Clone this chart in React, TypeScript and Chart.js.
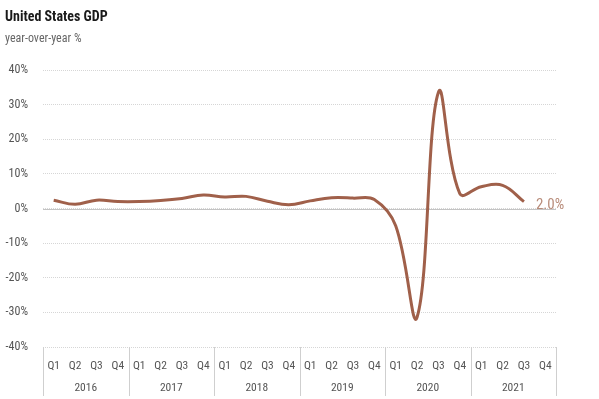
import { useEffect, useRef } from 'react';
import { Chart, registerables } from 'chart.js';
Chart.register(...registerables);

const years = ['2016', '2017', '2018', '2019', '2020', '2021'];
const quarters = ['Q1', 'Q2', 'Q3', 'Q4'];
const categories = years.flatMap((y) => quarters.map((q) => `${y} ${q}`));
const gdp = [2.4, 1.2, 2.4, 2.0, 2.0, 2.3, 2.9, 3.9, 3.3, 3.5, 2.1, 1.1, 2.2, 3.1, 3.0, 2.6, -5.0, -31.4, 33.6, 4.3, 6.3, 6.7, 2.0, null];
const yTicks = [-40, -30, -20, -10, 0, 10, 20, 30, 40];
const title = 'United States GDP';
const subtitle = 'year-over-year %';

const FONT = "'Liberation Sans Narrow', 'Roboto Condensed', 'DejaVu Sans Condensed', sans-serif";
const LINE = '#a0604a';
const LABEL = '#b88c7a';

const deco = {
  id: 'deco',
  beforeDatasetsDraw(chart: any) {
    const { ctx, chartArea, scales } = chart;
    const y0 = Math.round(scales.y.getPixelForValue(0)) + 0.5;
    ctx.save();
    ctx.strokeStyle = '#c4c4c4';
    ctx.lineWidth = 1;
    ctx.beginPath();
    ctx.moveTo(chartArea.left, y0);
    ctx.lineTo(chartArea.right, y0);
    ctx.stroke();
    ctx.restore();
  },
  afterDraw(chart: any) {
    const { ctx, chartArea, scales } = chart;
    const x = scales.x;
    ctx.save();
    const half = (x.getPixelForValue(1) - x.getPixelForValue(0)) / 2;
    ctx.strokeStyle = '#cfcfcf';
    ctx.lineWidth = 1;
    for (let i = 0; i <= years.length; i++) {
      const px = i < years.length
        ? x.getPixelForValue(i * 4) - half
        : x.getPixelForValue(categories.length - 1) + half;
      const rx = Math.round(px) + 0.5;
      ctx.beginPath();
      ctx.moveTo(rx, chartArea.bottom);
      ctx.lineTo(rx, chart.height - 3);
      ctx.stroke();
    }
    ctx.fillStyle = '#555';
    ctx.font = `11.5px ${FONT}`;
    ctx.textAlign = 'center';
    ctx.textBaseline = 'middle';
    years.forEach((yr, i) => {
      const cx = (x.getPixelForValue(i * 4) + x.getPixelForValue(i * 4 + 3)) / 2;
      ctx.fillText(yr, cx, chartArea.bottom + 41);
    });
    // titles
    ctx.textAlign = 'left';
    ctx.textBaseline = 'alphabetic';
    ctx.fillStyle = '#1a1a1a';
    ctx.font = `bold 14px ${FONT}`;
    ctx.fillText(title, 5, 21);
    ctx.fillStyle = '#666';
    ctx.font = `12px ${FONT}`;
    ctx.fillText(subtitle, 5, 42);
    // end label
    const meta = chart.getDatasetMeta(0);
    let last = -1;
    gdp.forEach((v, i) => { if (v !== null) last = i; });
    const pt = meta.data[last];
    ctx.fillStyle = LABEL;
    ctx.font = `15px ${FONT}`;
    ctx.textBaseline = 'middle';
    ctx.fillText(`${(gdp[last] as number).toFixed(1)}%`, pt.x + 12, pt.y + 4);
    ctx.restore();
  },
};

export default function App() {
  const ref = useRef<HTMLCanvasElement>(null);
  useEffect(() => {
    document.body.style.margin = '0';
    const chart = new Chart(ref.current!, {
      type: 'line',
      data: {
        labels: categories,
        datasets: [{
          data: gdp,
          borderColor: LINE,
          borderWidth: 3,
          pointRadius: 0,
          tension: 0.4,
          fill: false,
          spanGaps: false,
        }],
      },
      options: {
        animation: false,
        responsive: false,
        devicePixelRatio: 1,
        layout: { padding: { top: 70, left: 0, right: 43, bottom: 0 } },
        plugins: { legend: { display: false }, tooltip: { enabled: false }, title: { display: false } },
        scales: {
          x: {
            offset: true,
            grid: { display: false },
            border: { display: false },
            ticks: {
              autoSkip: false,
              maxRotation: 0,
              padding: 4,
              color: '#555',
              font: { family: FONT, size: 11.5 },
              callback: (v: any, i: number) => categories[i].split(' ')[1],
            },
            afterFit: (s: any) => { s.height = 52; },
          },
          y: {
            min: -40,
            max: 40,
            afterBuildTicks: (s: any) => { s.ticks = yTicks.map((v) => ({ value: v })); },
            grid: { color: '#d6d6d6', drawTicks: false, lineWidth: 1 },
            border: { display: false, dash: [1, 1] },
            ticks: {
              padding: 15,
              color: '#555',
              font: { family: FONT, size: 12 },
              callback: (v: any) => `${v}%`,
            },
            afterFit: (s: any) => { s.width = 43; },
          },
        },
      },
      plugins: [deco],
    });
    return () => chart.destroy();
  }, []);
  return <canvas ref={ref} width={599} height={399} style={{ display: 'block' }} />;
}
